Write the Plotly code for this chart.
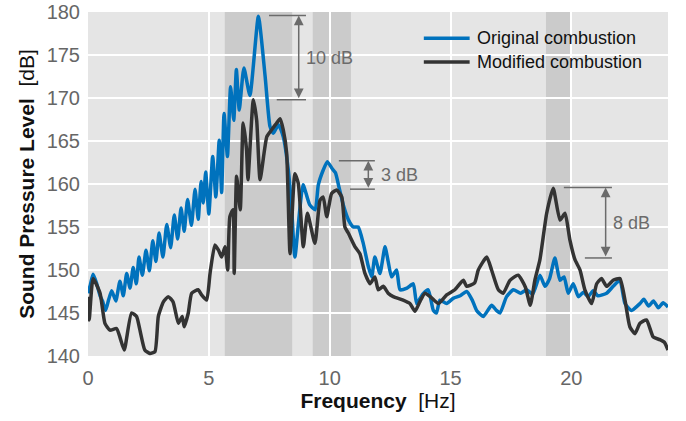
import plotly.graph_objects as go

# ---- data ----
orig_f = [0.0, 0.1, 0.21, 0.35, 0.5, 0.6, 0.73, 0.85, 0.98, 1.15, 1.32, 1.46, 1.60, 1.74, 1.87, 2.00, 2.11, 2.25,
          2.40, 2.54, 2.68, 2.81, 2.94, 3.10, 3.26, 3.42, 3.57, 3.71, 3.85, 3.98, 4.12, 4.28, 4.43, 4.56, 4.68, 4.77,
          4.87, 5.00, 5.16, 5.29, 5.43, 5.53, 5.63, 5.77, 5.90, 6.03, 6.14, 6.26, 6.45, 6.70, 7.05, 7.33, 7.53, 7.67,
          7.88, 8.08, 8.29, 8.43, 8.56, 8.90, 9.17, 9.40, 9.53, 9.73, 9.90, 10.10, 10.24, 10.38, 10.58, 10.78, 10.98,
          11.18, 11.39, 11.60, 11.74, 11.87, 12.08, 12.29, 12.42, 12.56, 12.77, 12.91, 13.20, 13.46, 13.60, 13.85,
          14.08, 14.29, 14.42, 14.56, 14.84, 15.11, 15.40, 15.67, 15.90, 16.08, 16.36, 16.70, 16.90, 17.05, 17.32,
          17.60, 17.90, 18.15, 18.40, 18.70, 18.91, 19.10, 19.32, 19.53, 19.70, 19.87, 20.08, 20.29, 20.50, 20.70,
          20.90, 21.10, 21.46, 21.73, 22.01, 22.22, 22.49, 22.84, 23.00, 23.20, 23.40, 23.60, 23.80, 24.00]
orig_db = [147.3, 148.3, 149.5, 148.5, 147.0, 146.4, 145.3, 146.5, 147.6, 146.4, 148.7, 147.0, 149.6, 147.9, 150.3,
           148.4, 151.5, 149.4, 152.3, 149.9, 153.4, 151.0, 154.3, 151.5, 155.3, 152.6, 156.4, 153.6, 157.2, 154.5,
           158.2, 155.2, 159.4, 155.9, 160.3, 157.8, 161.4, 156.5, 163.2, 158.5, 165.1, 159.0, 168.2, 163.2, 171.3,
           167.4, 173.3, 168.6, 173.5, 170.3, 179.5, 172.5, 166.7, 165.9, 166.9, 165.5, 161.6, 157.0, 151.5, 159.9,
           157.6, 157.0, 159.9, 161.6, 162.6, 161.8, 161.3, 159.7, 157.4, 155.8, 155.0, 155.0, 153.1, 150.4, 149.2,
           151.5, 149.6, 152.7, 151.0, 149.2, 150.0, 147.7, 147.9, 148.4, 146.1, 147.2, 147.7, 145.3, 145.0, 146.5,
           146.1, 146.7, 147.0, 147.5, 146.5, 145.3, 144.6, 145.9, 145.3, 145.0, 146.9, 147.7, 147.3, 147.7, 147.2,
           149.4, 148.1, 149.0, 151.4, 148.8, 149.2, 147.3, 148.4, 146.9, 147.4, 146.9, 147.6, 147.0, 147.3, 148.1,
           148.8, 146.1, 145.3, 146.1, 146.6, 145.8, 146.4, 145.6, 146.2, 145.7]

mod_f = [0.0, 0.05, 0.21, 0.50, 0.70, 0.91, 1.18, 1.32, 1.50, 1.80, 2.01, 2.15, 2.35, 2.56, 2.77, 2.91, 3.12, 3.32,
         3.52, 3.74, 3.90, 3.98, 4.15, 4.29, 4.56, 4.70, 4.91, 5.05, 5.25, 5.40, 5.53, 5.67, 5.78, 5.87, 6.00, 6.05,
         6.15, 6.30, 6.42, 6.56, 6.62, 6.84, 6.98, 7.12, 7.40, 7.60, 7.81, 7.95, 8.08, 8.22, 8.36, 8.56, 8.70, 8.91,
         9.08, 9.39, 9.60, 9.73, 9.88, 10.08, 10.29, 10.50, 10.63, 10.77, 11.05, 11.25, 11.46, 11.67, 11.87, 12.01,
         12.22, 12.42, 12.63, 13.04, 13.32, 13.53, 13.73, 13.94, 14.20, 14.50, 14.84, 15.18, 15.53, 15.67, 16.00,
         16.15, 16.50, 16.70, 16.98, 17.18, 17.46, 17.80, 18.10, 18.30, 18.49, 18.70, 18.98, 19.25, 19.53, 19.74,
         19.94, 20.15, 20.36, 20.56, 20.84, 21.05, 21.25, 21.46, 21.73, 22.01, 22.22, 22.42, 22.63, 22.84, 23.11,
         23.39, 23.66, 23.85, 24.00]
mod_db = [146.9, 144.2, 149.0, 147.3, 143.8, 143.0, 143.2, 142.2, 140.7, 145.0, 144.6, 143.0, 140.7, 140.3, 140.5,
          144.6, 146.3, 146.9, 146.3, 143.8, 144.6, 143.4, 145.0, 147.3, 147.7, 147.1, 146.5, 149.6, 152.9, 152.3,
          151.5, 152.7, 150.0, 156.2, 157.0, 149.6, 160.9, 157.0, 167.1, 164.0, 160.5, 169.8, 167.4, 160.5, 165.5,
          166.3, 167.1, 167.6, 166.3, 163.6, 151.9, 161.2, 160.1, 152.7, 156.6, 153.1, 158.1, 158.5, 156.2, 158.9,
          159.3, 158.5, 155.0, 154.3, 152.7, 151.9, 149.6, 148.4, 149.2, 147.7, 148.1, 147.3, 146.9, 146.5, 146.1,
          145.2, 146.3, 147.3, 146.8, 146.1, 147.1, 147.7, 148.8, 148.1, 148.5, 150.0, 151.5, 150.0, 147.7, 147.3,
          148.8, 149.4, 148.0, 145.9, 148.8, 151.2, 156.6, 159.5, 155.8, 156.6, 153.5, 151.2, 150.0, 147.7, 146.1,
          148.4, 149.0, 148.1, 148.8, 149.0, 146.5, 143.4, 142.6, 143.8, 144.2, 142.2, 141.9, 141.6, 140.7]

series_names = ["Original combustion", "Modified combustion"]
bands = [(5.66, 8.45), (9.3, 10.88), (18.95, 20.02)]
x_ticks = [0, 5, 10, 15, 20]
y_ticks = [140, 145, 150, 155, 160, 165, 170, 175, 180]

# level-difference markers: (arrow x, top y, bottom y, top line x0, bottom line x0, line x1, label x, label)
markers = [
    (8.72, 179.6, 169.8, 7.49, 7.81, 9.02, 8.93, "10 dB"),
    (11.60, 162.7, 159.4, 10.38, 10.84, 11.87, 12.05, "3 dB"),
    (21.42, 159.6, 151.4, 19.69, 20.56, 21.68, 21.64, "8 dB"),
]

BLUE = "#0072bd"
DARK = "#333333"
GREY = "#6b6b6b"
TICK = "#666666"
FONT = "Liberation Sans"

fig = go.Figure()
for xs, ys, col, nm in [(orig_f, orig_db, BLUE, series_names[0]), (mod_f, mod_db, DARK, series_names[1])]:
    fig.add_trace(go.Scatter(x=xs, y=ys, mode="lines", name=nm, showlegend=False,
                             line=dict(color=col, width=3.5, shape="spline", smoothing=0.5)))

for x0, x1 in bands:
    fig.add_shape(type="rect", xref="x", yref="paper", x0=x0, x1=x1, y0=0, y1=1,
                  fillcolor="rgba(0,0,0,0.11)", line=dict(width=0), layer="between")

for ax_x, ytop, ybot, xt0, xb0, x1, lx, label in markers:
    fig.add_shape(type="line", x0=xt0, x1=x1, y0=ytop, y1=ytop, line=dict(color=GREY, width=1.5))
    fig.add_shape(type="line", x0=xb0, x1=x1, y0=ybot, y1=ybot, line=dict(color=GREY, width=1.5))
    fig.add_annotation(x=ax_x, y=ytop, ax=ax_x, ay=ybot, axref="x", ayref="y", xref="x", yref="y",
                       text="", showarrow=True, arrowhead=2, startarrowhead=2, arrowside="end+start",
                       arrowsize=1.3, arrowwidth=1.5, arrowcolor=GREY, standoff=0, startstandoff=0)
    fig.add_annotation(x=lx, y=(ytop + ybot) / 2, xref="x", yref="y", text=label, showarrow=False,
                       xanchor="left", yanchor="middle",
                       font=dict(family=FONT, size=18, color=GREY))

# legend drawn in paper coordinates
legend_y = [0.924, 0.855]
for nm, col, ly in zip(series_names, [BLUE, DARK], legend_y):
    fig.add_shape(type="line", xref="paper", yref="paper", x0=0.579, x1=0.658, y0=ly, y1=ly,
                  line=dict(color=col, width=3.5))
    fig.add_annotation(xref="paper", yref="paper", x=0.668, y=ly, text=nm, showarrow=False,
                       xanchor="left", yanchor="middle", font=dict(family=FONT, size=18, color="#111111"))

fig.update_layout(
    width=686, height=421,
    margin=dict(l=88, r=18, t=12, b=65),
    paper_bgcolor="white", plot_bgcolor="#e5e5e5",
    font=dict(family=FONT, size=19, color=TICK),
    showlegend=False,
)
fig.update_xaxes(range=[0, 24], tickvals=x_ticks, showgrid=True, gridcolor="white", gridwidth=2,
                 zeroline=False, showline=False, ticks="", tickfont=dict(size=20, color=TICK),
                 ticklabelstandoff=8, automargin=False,
                 title=dict(text="<b>Frequency</b>  [Hz]", font=dict(family=FONT, size=21, color="#111111"),
                            standoff=3))
fig.update_yaxes(range=[140, 180], tickvals=y_ticks, showgrid=True, gridcolor="white", gridwidth=2,
                 zeroline=False, showline=False, ticks="", tickfont=dict(size=20, color=TICK),
                 ticklabelstandoff=7, automargin=False,
                 title=dict(text="<b>Sound Pressure Level</b>  [dB]", font=dict(family=FONT, size=21, color="#111111"),
                            standoff=6))

fig.write_html("out.html")
